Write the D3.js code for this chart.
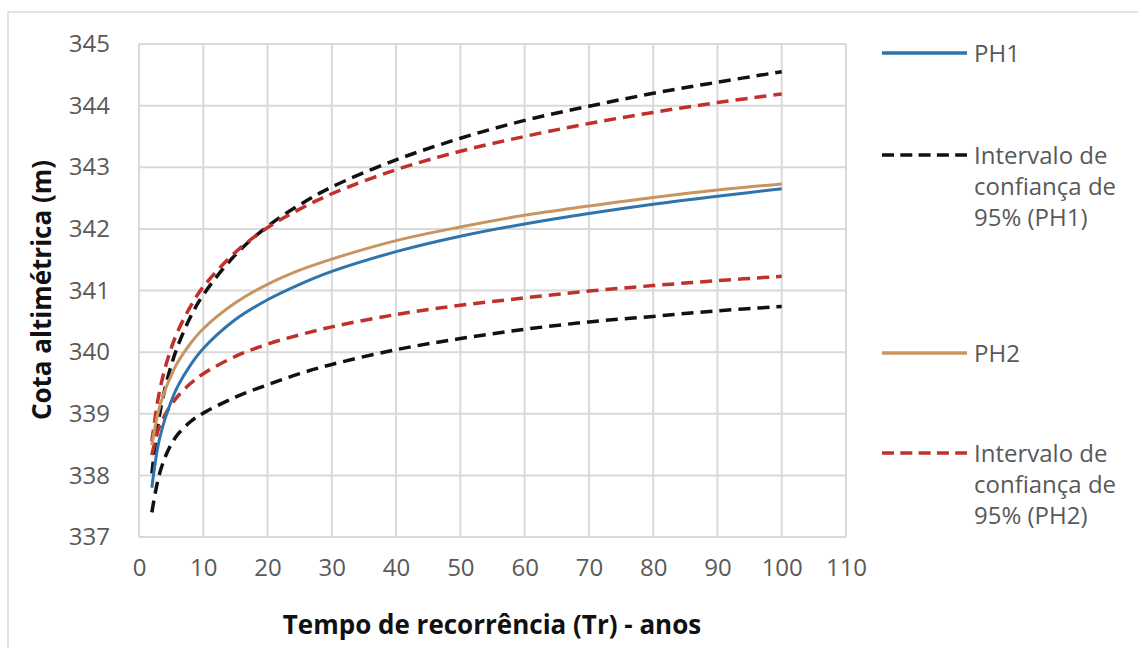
<!DOCTYPE html>
<html>
<head>
<meta charset="utf-8">
<script src="https://cdn.jsdelivr.net/npm/d3@7"></script>
<style>
  body { margin: 0; background: #fff; }
  text { font-family: "Open Sans", "Noto Sans", sans-serif; }
</style>
</head>
<body>
<div id="chart"></div>
<script>
// return periods (anos)
const tr = [2, 3, 4, 5, 6, 8, 10, 15, 20, 25, 30, 40, 50, 60, 70, 80, 90, 100];

const ph1      = [337.80, 338.50, 338.90, 339.20, 339.44, 339.79, 340.06, 340.53, 340.85, 341.10, 341.31, 341.63, 341.88, 342.08, 342.25, 342.40, 342.53, 342.65];
const ph1Upper = [338.03, 338.86, 339.39, 339.78, 340.09, 340.57, 340.93, 341.58, 342.04, 342.39, 342.68, 343.12, 343.47, 343.76, 343.99, 344.20, 344.38, 344.55];
const ph1Lower = [337.40, 337.95, 338.28, 338.50, 338.66, 338.87, 339.01, 339.27, 339.47, 339.65, 339.80, 340.04, 340.22, 340.37, 340.49, 340.58, 340.67, 340.74];
const ph2      = [338.49, 339.03, 339.37, 339.62, 339.83, 340.14, 340.38, 340.80, 341.10, 341.33, 341.51, 341.81, 342.03, 342.22, 342.37, 342.51, 342.63, 342.73];
const ph2Upper = [338.55, 339.26, 339.72, 340.06, 340.33, 340.74, 341.06, 341.62, 342.02, 342.32, 342.57, 342.96, 343.26, 343.50, 343.71, 343.89, 344.05, 344.19];
const ph2Lower = [338.33, 338.74, 338.97, 339.14, 339.28, 339.49, 339.65, 339.93, 340.13, 340.28, 340.41, 340.61, 340.76, 340.88, 340.99, 341.08, 341.16, 341.23];

const xTicks = [0, 10, 20, 30, 40, 50, 60, 70, 80, 90, 100, 110];
const yTicks = [337, 338, 339, 340, 341, 342, 343, 344, 345];

const width = 1138, height = 648;
const margin = {top: 44, right: 292, bottom: 111, left: 139};

const blue = "#2e75ad", tan = "#c8945f", red = "#c0312b", black = "#111111";

let svg = d3.select("#chart").append("svg")
    .attr("width", width)
    .attr("height", height)

// outer frame
svg.append("rect")
    .attr("x", 8).attr("y", 12)
    .attr("width", 1150).attr("height", 660)
    .attr("fill", "none")
    .attr("stroke", "#d9d9d9")
    .attr("stroke-width", 1.5)

let xScale = d3.scaleLinear()
    .domain([0, 110])
    .range([margin.left, width - margin.right]);
let yScale = d3.scaleLinear()
    .domain([337, 345])
    .range([height - margin.bottom, margin.top]);

// grid
let grid = svg.append("g")
grid.selectAll("line.v").data(xTicks).enter().append("line")
    .attr("x1", d => xScale(d)).attr("x2", d => xScale(d))
    .attr("y1", yScale(337)).attr("y2", yScale(345))
    .attr("stroke", "#d9d9d9").attr("stroke-width", 2)
grid.selectAll("line.h").data(yTicks).enter().append("line")
    .attr("x1", xScale(0)).attr("x2", xScale(110))
    .attr("y1", d => yScale(d)).attr("y2", d => yScale(d))
    .attr("stroke", "#d9d9d9").attr("stroke-width", 2)

// axes (labels only, grid draws the lines)
let xAxis = d3.axisBottom(xScale).tickValues(xTicks).tickSize(0).tickPadding(22);
let xAx = svg.append("g")
    .attr("transform", "translate(0," + yScale(337) + ")")
    .call(xAxis);
let yAxis = d3.axisLeft(yScale).tickValues(yTicks).tickSize(0).tickPadding(29);
let yAx = svg.append("g")
    .attr("transform", "translate(" + xScale(0) + ",0)")
    .call(yAxis);
[xAx, yAx].forEach(ax => {
    ax.select(".domain").remove();
    ax.selectAll("text")
        .style("font-size", "24px")
        .style("font-family", "'Open Sans', sans-serif")
        .attr("fill", "#595959");
});

// axis titles
svg.append("text")
    .text("Tempo de recorrência (Tr) - anos")
    .attr("x", 492).attr("y", 634)
    .style("text-anchor", "middle")
    .style("font-size", "26px")
    .style("font-weight", "bold")
    .attr("fill", "#111")
svg.append("text")
    .text("Cota altimétrica  (m)")
    .attr("transform", "translate(51,290) rotate(-90)")
    .style("text-anchor", "middle")
    .style("font-size", "26px")
    .style("font-weight", "bold")
    .attr("fill", "#111")

// series
let series = [
    {name: "ph1Lower", values: ph1Lower, color: black, dash: "12,7", width: 3.5},
    {name: "ph1Upper", values: ph1Upper, color: black, dash: "12,7", width: 3.5},
    {name: "ph2Lower", values: ph2Lower, color: red, dash: "12,7", width: 3.5},
    {name: "ph2Upper", values: ph2Upper, color: red, dash: "12,7", width: 3.5},
    {name: "ph1", values: ph1, color: blue, dash: null, width: 3},
    {name: "ph2", values: ph2, color: tan, dash: null, width: 3}
];

let line = d3.line()
    .x(d => xScale(d[0]))
    .y(d => yScale(d[1]))
    .curve(d3.curveCatmullRom.alpha(0.5));

svg.append("g").selectAll("path").data(series).enter().append("path")
    .attr("d", s => line(tr.map((t, i) => [t, s.values[i]])))
    .attr("fill", "none")
    .attr("stroke", s => s.color)
    .attr("stroke-width", s => s.width)
    .attr("stroke-dasharray", s => s.dash)

// legend
let legend = [
    {lines: ["PH1"], color: blue, dash: null, y: 53},
    {lines: ["Intervalo de", "confiança de", "95% (PH1)"], color: black, dash: "12,6.3", y: 155},
    {lines: ["PH2"], color: tan, dash: null, y: 353},
    {lines: ["Intervalo de", "confiança de", "95% (PH2)"], color: red, dash: "12,6.3", y: 453}
];
let lg = svg.append("g")
legend.forEach(item => {
    lg.append("line")
        .attr("x1", 882).attr("x2", 967)
        .attr("y1", item.y).attr("y2", item.y)
        .attr("stroke", item.color)
        .attr("stroke-width", 3.5)
        .attr("stroke-dasharray", item.dash)
    let t = lg.append("text")
        .attr("fill", "#595959")
        .style("font-size", "24px")
    item.lines.forEach((l, i) => {
        t.append("tspan")
            .text(l)
            .attr("x", 974)
            .attr("y", item.y + 9 + i * 31)
    })
})
</script>
</body>
</html>
